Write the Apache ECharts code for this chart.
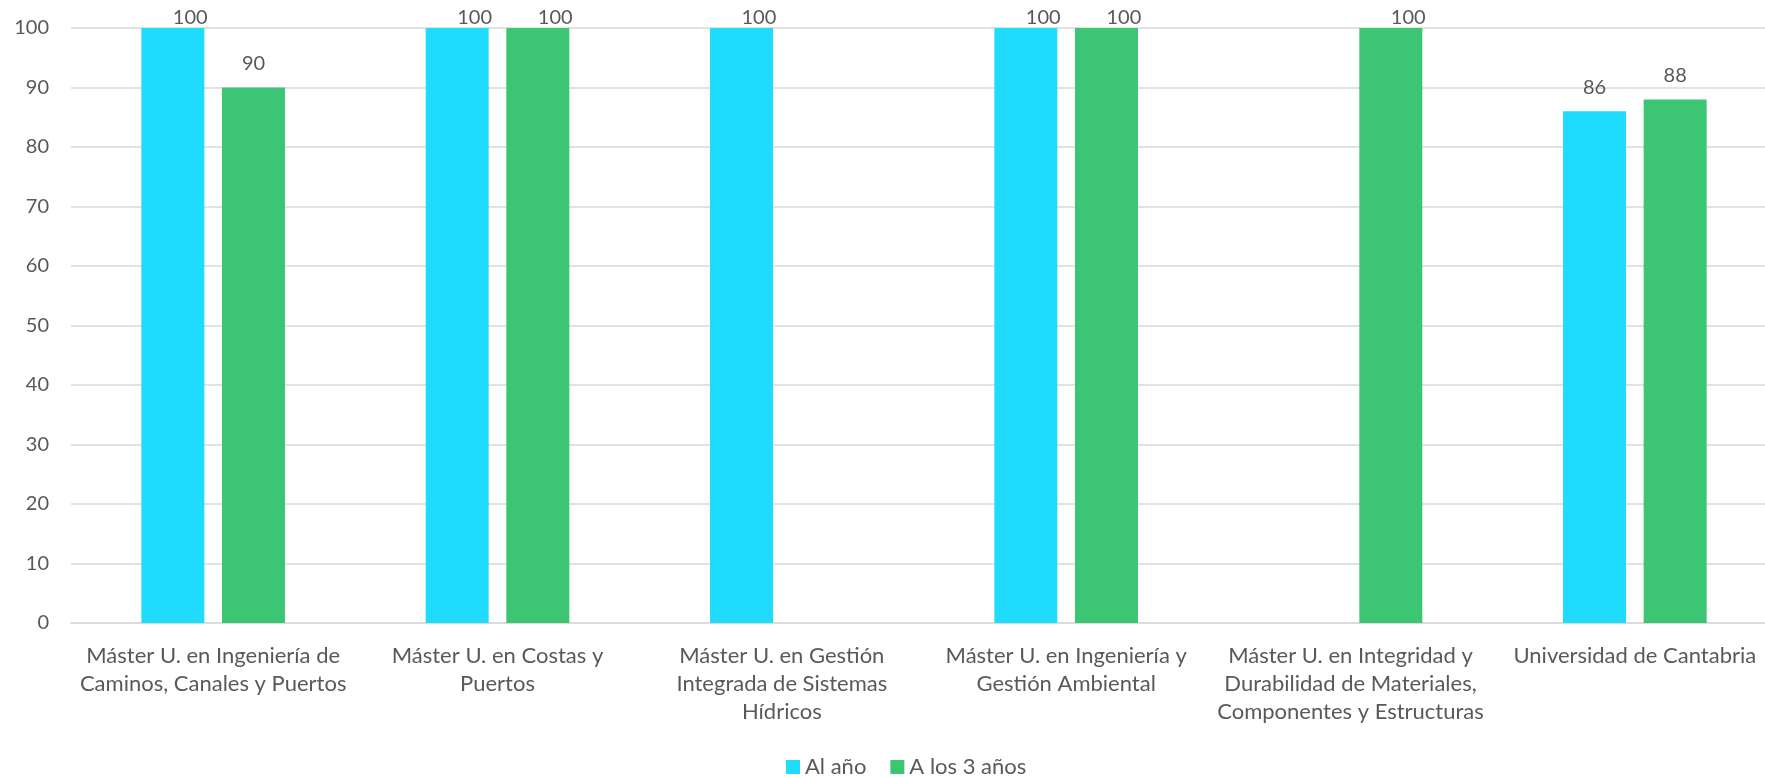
<!DOCTYPE html>
<html>
<head>
<meta charset="utf-8">
<script src="https://cdn.jsdelivr.net/npm/echarts@6/dist/echarts.min.js"></script>
<style>
html, body { margin: 0; padding: 0; background: #fff; overflow: hidden; }
#main { width: 1790px; height: 777px; }
</style>
</head>
<body>
<div id="main"></div>
<script>
var categories = [
    'Máster U. en Ingeniería de\nCaminos, Canales y Puertos',
    'Máster U. en Costas y\nPuertos',
    'Máster U. en Gestión\nIntegrada de Sistemas\nHídricos',
    'Máster U. en Ingeniería y\nGestión Ambiental',
    'Máster U. en Integridad y\nDurabilidad de Materiales,\nComponentes y Estructuras',
    'Universidad de Cantabria'
];
var alAnio = [100, 100, 100, 100, '-', 86];
var aLos3 = [90, 100, '-', 100, 100, 88];
var yTicks = [0, 10, 20, 30, 40, 50, 60, 70, 80, 90, 100];

var myChart = echarts.init(document.getElementById('main'));

var font = 'Lato, "Open Sans", sans-serif';

// labels that would go off the top get pushed back inside, like the original
function keepInside(params) {
    var r = params.labelRect;
    if (r.y < 10) {
        return { y: 18, verticalAlign: 'middle' };
    }
    return {};
}

// the plot area runs a little past the right edge of the window (cropped original)
var option = {
    backgroundColor: '#fff',
    animation: false,
    textStyle: { fontFamily: font },
    grid: {
        left: 71,
        right: 13,
        top: 28,
        bottom: 154,
        containLabel: false
    },
    legend: {
        bottom: -6,
        left: 781,
        icon: 'rect',
        itemWidth: 14,
        itemHeight: 14,
        itemGap: 24,
        textStyle: { color: '#595959', fontSize: 22, fontFamily: font },
        data: ['Al año', 'A los 3 años']
    },
    xAxis: {
        type: 'category',
        data: categories,
        axisTick: { show: false },
        axisLine: { lineStyle: { color: '#d9d9d9', width: 1.5 } },
        axisLabel: {
            interval: 0,
            color: '#595959',
            fontSize: 22,
            lineHeight: 28,
            margin: 19,
            fontFamily: font
        }
    },
    yAxis: {
        type: 'value',
        min: yTicks[0],
        max: yTicks[yTicks.length - 1],
        interval: 10,
        axisLine: { show: false },
        axisTick: { show: false },
        splitLine: { lineStyle: { color: '#d9d9d9', width: 1.5 } },
        axisLabel: {
            color: '#595959',
            fontSize: 20,
            margin: 22,
            fontFamily: font
        }
    },
    series: [{
        name: 'Al año',
        type: 'bar',
        data: alAnio,
        barWidth: 63,
        barGap: '28%',
        itemStyle: { color: '#1fdcff' },
        labelLayout: keepInside,
        label: {
            show: true,
            position: 'top',
            distance: 14,
            color: '#595959',
            fontSize: 20,
            fontFamily: font
        }
    }, {
        name: 'A los 3 años',
        type: 'bar',
        data: aLos3,
        barWidth: 63,
        itemStyle: { color: '#3cc674' },
        labelLayout: keepInside,
        label: {
            show: true,
            position: 'top',
            distance: 14,
            color: '#595959',
            fontSize: 20,
            fontFamily: font
        }
    }]
};

myChart.setOption(option);
</script>
</body>
</html>
